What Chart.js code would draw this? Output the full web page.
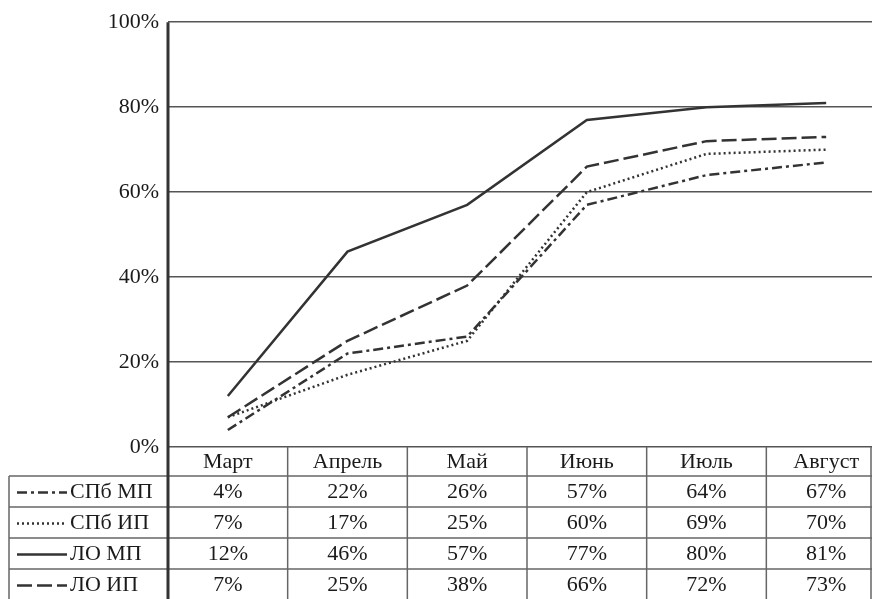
<!DOCTYPE html>
<html>
<head>
<meta charset="utf-8">
<script src="https://cdn.jsdelivr.net/npm/chart.js@4.4.0/dist/chart.umd.min.js"></script>
<style>
    html, body { margin: 0; padding: 0; background: #fff; overflow: hidden; }
    #wrap { width: 886px; height: 599px; }
</style>
</head>
<body>
<div id="wrap"><canvas id="chart" width="886" height="599"></canvas></div>
<script>
// Months and series (share, %)
const months = ["Март", "Апрель", "Май", "Июнь", "Июль", "Август"];
const seriesNames = ["СПб МП", "СПб ИП", "ЛО МП", "ЛО ИП"];
const spbMP = [4, 22, 26, 57, 64, 67];
const spbIP = [7, 17, 25, 60, 69, 70];
const loMP = [12, 46, 57, 77, 80, 81];
const loIP = [7, 25, 38, 66, 72, 73];
const yTicks = [0, 20, 40, 60, 80, 100];

const FONT = "'Liberation Serif', 'DejaVu Serif', serif";
const INK = "#333";
const GRID = "#555";

const seriesData = [spbMP, spbIP, loMP, loIP];
const dashes = [[10, 4, 3, 4], [2, 3], [], [15, 5]];

// Data table under the plot, aligned to the category columns
const tablePlugin = {
    id: "dataTable",
    afterDraw(chart) {
        const ctx = chart.ctx;
        const area = chart.chartArea;
        const x = chart.scales.x;
        const colW = (area.right - area.left) / months.length;
        const headTop = area.bottom;
        const headH = 29;
        const rowH = 31;
        const tableLeft = 9;
        const bottom = chart.height;

        ctx.save();
        ctx.strokeStyle = "#666";
        ctx.lineWidth = 1.5;

        // column separators
        for (let i = 1; i <= months.length; i++) {
            const cx = Math.min(x.getPixelForValue(i - 1) + colW / 2, 871);
            ctx.beginPath();
            ctx.moveTo(cx, headTop);
            ctx.lineTo(cx, bottom);
            ctx.stroke();
        }
        // row separators
        for (let r = 0; r <= seriesNames.length; r++) {
            const y = headTop + headH + r * rowH;
            ctx.beginPath();
            ctx.moveTo(tableLeft, y);
            ctx.lineTo(area.right, y);
            ctx.stroke();
        }
        // left border of legend column
        ctx.beginPath();
        ctx.moveTo(tableLeft, headTop + headH);
        ctx.lineTo(tableLeft, bottom);
        ctx.stroke();

        // thick axis line through the table
        ctx.strokeStyle = INK;
        ctx.lineWidth = 3;
        ctx.beginPath();
        ctx.moveTo(area.left, area.top);
        ctx.lineTo(area.left, bottom);
        ctx.stroke();

        ctx.fillStyle = "#1a1a1a";
        ctx.font = "22px " + FONT;
        ctx.textAlign = "center";
        ctx.textBaseline = "middle";
        months.forEach((m, i) => {
            ctx.fillText(m, x.getPixelForValue(i), headTop + headH / 2 + 1);
        });

        seriesNames.forEach((name, r) => {
            const cy = headTop + headH + r * rowH + rowH / 2 + 1;
            seriesData[r].forEach((v, i) => {
                ctx.textAlign = "center";
                ctx.fillText(v + "%", x.getPixelForValue(i), cy);
            });
            // legend sample
            ctx.save();
            ctx.strokeStyle = INK;
            ctx.lineWidth = 2.5;
            ctx.setLineDash(dashes[r]);
            ctx.beginPath();
            ctx.moveTo(17, cy);
            ctx.lineTo(67, cy);
            ctx.stroke();
            ctx.restore();
            ctx.textAlign = "left";
            ctx.fillText(name, 70, cy);
        });
        ctx.restore();
    }
};

const datasets = seriesNames.map((name, i) => ({
    label: name,
    data: seriesData[i],
    borderColor: INK,
    borderWidth: 2.5,
    borderDash: dashes[i],
    pointRadius: 0,
    tension: 0,
    fill: false
}));

new Chart(document.getElementById("chart"), {
    type: "line",
    data: { labels: months, datasets: datasets },
    options: {
        responsive: false,
        animation: false,
        layout: { padding: { top: 22, bottom: 152, left: 0, right: 0 } },
        plugins: { legend: { display: false }, tooltip: { enabled: false } },
        scales: {
            x: { display: false, offset: true },
            y: {
                min: 0,
                max: 100,
                afterFit: s => { s.width = 168; },
                afterBuildTicks: s => { s.ticks = yTicks.map(v => ({ value: v })); },
                border: { display: false },
                grid: { color: GRID, lineWidth: 1.5, drawTicks: false },
                ticks: {
                    padding: 9,
                    color: "#1a1a1a",
                    font: { family: FONT, size: 22 },
                    callback: v => v + "%"
                }
            }
        }
    },
    plugins: [tablePlugin]
});
</script>
</body>
</html>
